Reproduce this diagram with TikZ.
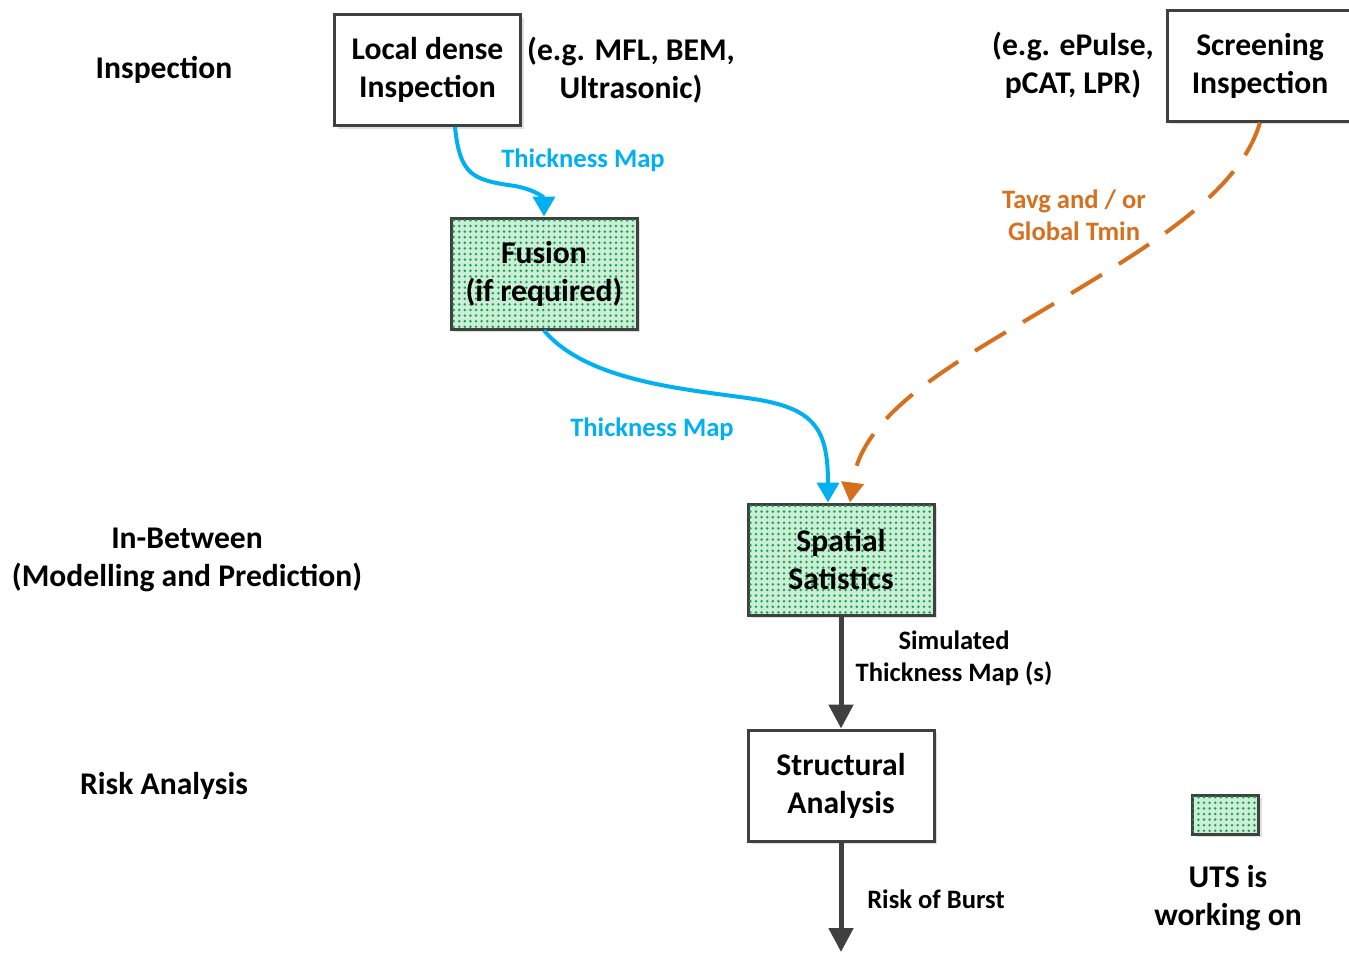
\documentclass[tikz,border=0pt]{standalone}
\usepackage{fontspec}
\setmainfont{Carlito}
\usepackage{tikz}
\usepackage{xcolor}
\usetikzlibrary{arrows.meta,positioning,calc,patterns,shadows}

\definecolor{mapblue}{RGB}{0,176,240}
\definecolor{tavgorange}{RGB}{214,112,30}
\definecolor{boxgray}{RGB}{64,64,64}
\definecolor{dotgreen}{RGB}{20,165,80}
\definecolor{dotbg}{RGB}{205,238,214}

% green dot fill of the boxes
\pgfdeclarepatternformonly{utsdots}{\pgfpoint{-1pt}{-1pt}}{\pgfpoint{1pt}{1pt}}{\pgfpoint{2.8pt}{2.8pt}}%
{\pgfpathcircle{\pgfpoint{0pt}{0pt}}{0.7pt}\pgfusepath{fill}}

\tikzset{
  block/.style={draw=boxgray, line width=1.5pt, fill=white, align=center,
    minimum width=93pt, minimum height=55.5pt,
    font=\fontsize{15.8}{19}\selectfont\bfseries,
    drop shadow={opacity=0.25, shadow xshift=1.5pt, shadow yshift=-1.5pt}},
  utsblock/.style={block, fill=dotbg, postaction={pattern=utsdots, pattern color=dotgreen}},
  title/.style={align=center, font=\fontsize{15.8}{19}\selectfont\bfseries},
  flowlabel/.style={align=center, font=\fontsize{13.3}{16}\selectfont\bfseries},
  mapflow/.style={draw=mapblue, line width=2pt, -{Triangle[length=10pt,width=11pt]}},
  tavgflow/.style={draw=tavgorange, line width=2pt, dash pattern=on 18pt off 10pt,
    -{Triangle[length=10pt,width=11pt]}},
  mainflow/.style={draw=boxgray, line width=2.5pt, -{Triangle[length=12pt,width=12pt]}}
}

\begin{document}
\begin{tikzpicture}[x=0.5pt, y=-0.5pt]
\useasboundingbox (0,0) rectangle (1349,954);

% Levels
\node[title] (inspection) at (164,70) {Inspection};
\node[title] (inbetween) at (187,560) {In-Between\\(Modelling and Prediction)};
\node[title] (risk) at (164,786) {Risk Analysis};

% Inspection
\node[block] (local) at (427.5,70) {Local dense\\Inspection};
\node[title] (localeg) at (631,70) {(e.g. MFL, BEM,\\Ultrasonic)};
\node[block] (screening) at (1260,65.5) {Screening\\Inspection};
\node[title] (screeneg) at (1073,65.5) {(e.g. ePulse,\\pCAT, LPR)};

% Modelling
\node[utsblock] (fusion) at (544,273.5) {Fusion\\(if required)};
\node[utsblock] (spatial) at (841,559.5) {Spatial\\Satistics};

% Risk
\node[block] (structural) at (841,785.5) {Structural\\Analysis};
\coordinate (burst) at (841,952);

% Legend
\node[utsblock, minimum width=33pt, minimum height=19.5pt] (legend) at (1225.5,814.5) {};
\node[title] (legendtext) at (1228,898) {UTS is\\working on};

% Flows
\draw[mapflow] ($(local.south)+(27.5,0)$) .. controls (460,175) and (472,180) .. (515,186)
  .. controls (536,190) and (544,198) .. (fusion.north);
\node[flowlabel, text=mapblue] (map1) at (583,160) {Thickness Map};

\draw[mapflow] (fusion.south) .. controls (590,385) and (700,390) .. (760,400)
  .. controls (815,410) and (828,430) .. ($(spatial.north)+(-13,0)$);
\node[flowlabel, text=mapblue] (map2) at (652,429) {Thickness Map};

\draw[tavgflow] (screening.south) .. controls (1240,190) and (1160,240) .. (1060,300)
  .. controls (960,360) and (862,410) .. ($(spatial.north)+(9,0)$);
\node[flowlabel, text=tavgorange] (tavg) at (1074,215) {Tavg and / or\\Global Tmin};

\draw[mainflow] (spatial) -- (structural);
\node[flowlabel] (simulated) at (954,658) {Simulated\\Thickness Map (s)};

\draw[mainflow] (structural) -- (burst);
\node[flowlabel] (burstlabel) at (936,899) {Risk of Burst};
\end{tikzpicture}
\end{document}
